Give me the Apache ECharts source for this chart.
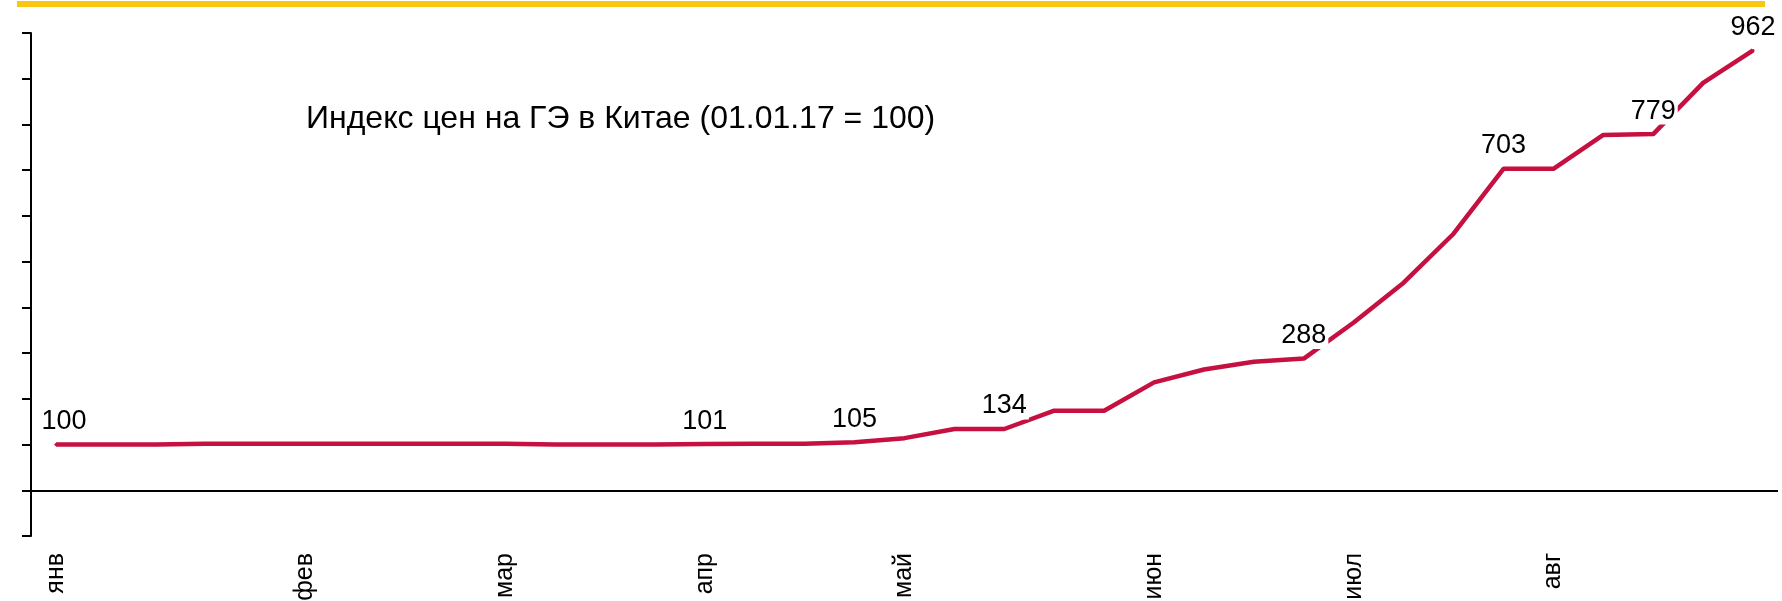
<!DOCTYPE html>
<html>
<head>
<meta charset="utf-8">
<title>Индекс цен на ГЭ в Китае</title>
<script src="https://cdn.jsdelivr.net/npm/echarts@6/dist/echarts.min.js"></script>
<style>
    html, body { margin: 0; padding: 0; background: #fff; }
    #chart { width: 1782px; height: 601px; }
</style>
</head>
<body>
<div id="chart"></div>
<script>
// 横轴：每周一个点，只在月初显示月份
var weeks = ['янв', '', '', '', '', 'фев', '', '', '', 'мар', '', '', '', 'апр', '', '', '', 'май', '', '', '', '',
    'июн', '', '', '', 'июл', '', '', '', 'авг', '', '', '', ''];
// 指数值 (01.01.17 = 100)
var priceIndex = [100, 100, 100, 102, 102, 102, 102, 102, 102, 102, 100, 100, 100, 101, 102, 102, 105, 114, 134, 134,
    174, 174, 236, 264, 281, 288, 367, 454, 561, 703, 703, 777, 779, 891, 962];
// 需要显示数值的点
var labelIdx = [0, 13, 16, 19, 25, 29, 32, 34];
var titleText = 'Индекс цен на ГЭ в Китае (01.01.17 = 100)';

var chart;

window.onload = function() {
    chartInit();
};

//初始化图表
function chartInit() {
    chart = echarts.init(document.getElementById('chart'));

    var seriesData = priceIndex.map(function(v, i) {
        if (labelIdx.indexOf(i) < 0) return v;
        var item = { value: v, label: { show: true } };
        if (i === 0) item.label.offset = [8, 0];
        return item;
    });

    var option = {
        animation: false,
        textStyle: { fontFamily: 'Liberation Sans, Arial, sans-serif' },
        title: {
            text: titleText,
            left: 306,
            top: 103,
            padding: 0,
            textStyle: { fontSize: 32, fontWeight: 'normal', color: '#000', fontFamily: 'Liberation Sans' }
        },
        graphic: [{
            // 顶部黄色横条
            type: 'rect',
            shape: { x: 17, y: 1, width: 1748, height: 6 },
            style: { fill: '#F8C810' },
            silent: true
        }],
        grid: { left: 31, top: 33, width: 1747, height: 503, outerBoundsMode: 'none' },
        xAxis: {
            type: 'category',
            data: weeks,
            boundaryGap: true,
            axisLine: { show: false, onZero: false },
            axisTick: { show: false },
            axisLabel: {
                interval: 0,
                rotate: 90,
                margin: 17,
                fontSize: 25,
                color: '#000',
                fontFamily: 'Liberation Sans'
            },
            splitLine: { show: false }
        },
        yAxis: {
            type: 'value',
            min: -100,
            max: 1000,
            interval: 100,
            axisLine: { show: true, lineStyle: { color: '#000', width: 2 } },
            axisTick: { show: true, length: 9, lineStyle: { color: '#000', width: 2 } },
            axisLabel: { show: false },
            splitLine: { show: false }
        },
        series: [{
            type: 'line',
            data: seriesData,
            symbol: 'circle',
            symbolSize: 3,
            showSymbol: true,
            lineStyle: { color: '#C51040', width: 4.5 },
            itemStyle: { color: '#C51040' },
            z: 3,
            label: {
                show: false,
                position: 'top',
                distance: 8,
                fontSize: 27,
                color: '#000',
                fontFamily: 'Liberation Sans',
                backgroundColor: '#fff',
                padding: [0, 2]
            },
            markLine: {
                silent: true,
                symbol: 'none',
                label: { show: false },
                lineStyle: { color: '#000', width: 2, type: 'solid' },
                data: [{ yAxis: 0 }]
            }
        }]
    };
    chart.setOption(option);
}
</script>
</body>
</html>
